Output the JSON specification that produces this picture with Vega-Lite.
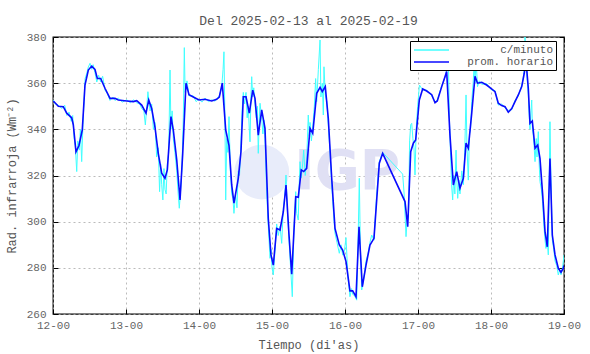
{
  "$schema": "https://vega.github.io/schema/vega-lite/v6.json",
  "width": 511,
  "height": 277,
  "autosize": {"type": "none"},
  "padding": {"left": 53, "top": 37, "right": 26, "bottom": 40},
  "background": "white",
  "title": {"text": "Del 2025-02-13 al 2025-02-19", "font": "Liberation Mono", "fontSize": 13, "fontWeight": "normal", "color": "#555555", "offset": 3},
  "config": {
    "view": {"stroke": "black", "strokeWidth": 1.3},
    "axis": {"labelFont": "Liberation Mono", "labelFontSize": 11, "labelColor": "#666666", "titleFont": "Liberation Mono", "titleFontSize": 12, "titleFontWeight": "normal", "titleColor": "#555555", "domain": false, "gridColor": "#aaaaaa", "gridDash": [2, 3], "gridWidth": 0.8, "tickColor": "black"}
  },
  "datasets": {
    "hourly": [
      {"t":12.004,"v":352.3},{"t":12.073,"v":350},{"t":12.141,"v":349.8},{"t":12.188,"v":347},{"t":12.256,"v":345},{"t":12.278,"v":342},{"t":12.315,"v":330.3},{"t":12.356,"v":333},{"t":12.401,"v":339.7},{"t":12.438,"v":359.2},{"t":12.484,"v":365.7},{"t":12.53,"v":367.4},{"t":12.575,"v":366},{"t":12.607,"v":362},{"t":12.653,"v":362},{"t":12.712,"v":357.8},{"t":12.781,"v":353.4},{"t":12.849,"v":353.4},{"t":12.895,"v":352.7},{"t":13.01,"v":352.3},
      {"t":13.1,"v":352},{"t":13.147,"v":352.4},{"t":13.215,"v":350.5},{"t":13.274,"v":347},{"t":13.311,"v":352.7},{"t":13.352,"v":349},{"t":13.397,"v":341},{"t":13.442,"v":329.6},{"t":13.489,"v":321},{"t":13.534,"v":318.8},{"t":13.566,"v":322.4},{"t":13.616,"v":345.5},{"t":13.648,"v":339.7},{"t":13.695,"v":326.7},{"t":13.74,"v":309.4},{"t":13.777,"v":329.6},{"t":13.822,"v":360},{"t":13.863,"v":355},{"t":13.922,"v":354},{"t":14.0,"v":352.7},
      {"t":14.082,"v":353},{"t":14.174,"v":352.3},{"t":14.242,"v":353},{"t":14.278,"v":354},{"t":14.319,"v":360},{"t":14.366,"v":339.7},{"t":14.411,"v":333},{"t":14.448,"v":315.9},{"t":14.479,"v":308},{"t":14.538,"v":318.8},{"t":14.575,"v":330.3},{"t":14.607,"v":354.1},{"t":14.644,"v":354.1},{"t":14.689,"v":347},{"t":14.736,"v":357},{"t":14.767,"v":353.4},{"t":14.812,"v":337.5},{"t":14.859,"v":348.4},{"t":14.904,"v":340.4},{"t":14.949,"v":301.4},{"t":14.986,"v":285.6},
      {"t":15.018,"v":281.2},{"t":15.064,"v":297.1},{"t":15.11,"v":296.4},{"t":15.155,"v":304.3},{"t":15.192,"v":315.9},{"t":15.233,"v":294.2},{"t":15.27,"v":277.2},{"t":15.325,"v":310.8},{"t":15.36,"v":310.6},{"t":15.401,"v":322.4},{"t":15.434,"v":321.7},{"t":15.475,"v":323.1},{"t":15.521,"v":340.4},{"t":15.558,"v":338.3},{"t":15.612,"v":355.6},{"t":15.658,"v":358.2},{"t":15.689,"v":356.3},{"t":15.73,"v":358.5},{"t":15.771,"v":344.8},{"t":15.818,"v":318.8},{"t":15.863,"v":297.1},{"t":15.922,"v":289.9},{"t":15.968,"v":287.7},
      {"t":16.014,"v":282.7},{"t":16.068,"v":270},{"t":16.105,"v":270},{"t":16.151,"v":267.5},{"t":16.192,"v":297.8},{"t":16.237,"v":271.8},{"t":16.288,"v":281.2},{"t":16.342,"v":289.9},{"t":16.397,"v":292.8},{"t":16.47,"v":325.3},{"t":16.516,"v":329.6},{"t":16.822,"v":308.7},{"t":16.859,"v":297.8},{"t":16.9,"v":330.3},{"t":16.936,"v":334},{"t":16.968,"v":335.4},
      {"t":17.018,"v":352.7},{"t":17.064,"v":357.5},{"t":17.119,"v":356.6},{"t":17.188,"v":355},{"t":17.233,"v":351.5},{"t":17.264,"v":352.3},{"t":17.325,"v":358.5},{"t":17.393,"v":365},{"t":17.438,"v":337.5},{"t":17.484,"v":315.9},{"t":17.53,"v":321.7},{"t":17.575,"v":314.5},{"t":17.621,"v":318.8},{"t":17.658,"v":334},{"t":17.689,"v":331.8},{"t":17.736,"v":347},{"t":17.781,"v":363},{"t":17.815,"v":360},{"t":17.873,"v":360.4},{"t":17.94,"v":359.2},
      {"t":18.008,"v":357.5},{"t":18.055,"v":356.3},{"t":18.1,"v":351.3},{"t":18.147,"v":350.3},{"t":18.192,"v":349.8},{"t":18.237,"v":347.4},{"t":18.284,"v":349},{"t":18.329,"v":352},{"t":18.374,"v":354.9},{"t":18.421,"v":358.5},{"t":18.456,"v":364.3},{"t":18.479,"v":370},{"t":18.511,"v":357.8},{"t":18.534,"v":342.6},{"t":18.566,"v":343.6},{"t":18.603,"v":331.8},{"t":18.64,"v":333.2},{"t":18.671,"v":327.4},{"t":18.708,"v":311.6},{"t":18.74,"v":295.7},{"t":18.771,"v":289.1},{"t":18.808,"v":327.4},{"t":18.84,"v":294.2},{"t":18.877,"v":285.6},{"t":18.922,"v":279.8},{"t":18.959,"v":278.1},{"t":18.99,"v":279.8},{"t":19.0,"v":281}
    ],
    "minute": [
      {"t":12.0,"v":352.8},{"t":12.03,"v":351},{"t":12.073,"v":350.5},{"t":12.12,"v":349},{"t":12.16,"v":350.5},{"t":12.19,"v":346},{"t":12.22,"v":347.5},{"t":12.25,"v":343.5},{"t":12.27,"v":346},{"t":12.29,"v":336},{"t":12.305,"v":333},{"t":12.325,"v":321.7},{"t":12.34,"v":335},{"t":12.36,"v":331},{"t":12.375,"v":340},{"t":12.393,"v":326},{"t":12.41,"v":342},{"t":12.425,"v":352},{"t":12.44,"v":362},{"t":12.46,"v":364},{"t":12.484,"v":367},{"t":12.507,"v":368.6},{"t":12.53,"v":366},{"t":12.55,"v":368},{"t":12.575,"v":364.5},{"t":12.6,"v":360.5},{"t":12.625,"v":363.5},{"t":12.653,"v":360.5},{"t":12.68,"v":363},{"t":12.712,"v":357},{"t":12.745,"v":355.5},{"t":12.781,"v":352.5},{"t":12.82,"v":354},{"t":12.849,"v":352.5},{"t":12.895,"v":353.5},{"t":12.95,"v":351.8},{"t":13.01,"v":352.8},
      {"t":13.06,"v":351.5},{"t":13.1,"v":352.8},{"t":13.147,"v":351.5},{"t":13.19,"v":351},{"t":13.215,"v":349},{"t":13.245,"v":348},{"t":13.265,"v":341.9},{"t":13.285,"v":350},{"t":13.3,"v":356.3},{"t":13.33,"v":348},{"t":13.352,"v":351},{"t":13.375,"v":340},{"t":13.397,"v":343},{"t":13.42,"v":328},{"t":13.442,"v":332},{"t":13.46,"v":313},{"t":13.475,"v":325},{"t":13.489,"v":316},{"t":13.505,"v":309.4},{"t":13.52,"v":323},{"t":13.534,"v":314},{"t":13.55,"v":312},{"t":13.566,"v":325},{"t":13.585,"v":330},{"t":13.603,"v":365.7},{"t":13.616,"v":340},{"t":13.632,"v":348},{"t":13.648,"v":336},{"t":13.67,"v":330},{"t":13.695,"v":322},{"t":13.715,"v":312},{"t":13.73,"v":305.8},{"t":13.745,"v":312},{"t":13.765,"v":322},{"t":13.785,"v":345},{"t":13.799,"v":375.4},{"t":13.81,"v":356},{"t":13.835,"v":361},{"t":13.863,"v":354.5},{"t":13.922,"v":354.5},{"t":13.96,"v":352},{"t":14.0,"v":353.2},
      {"t":14.04,"v":351.8},{"t":14.082,"v":353.5},{"t":14.13,"v":352},{"t":14.174,"v":352.8},{"t":14.22,"v":352.2},{"t":14.278,"v":354.5},{"t":14.31,"v":358},{"t":14.33,"v":366},{"t":14.342,"v":373.6},{"t":14.355,"v":345},{"t":14.366,"v":309.4},{"t":14.38,"v":336},{"t":14.395,"v":330},{"t":14.411,"v":345.5},{"t":14.43,"v":322},{"t":14.448,"v":312},{"t":14.465,"v":310},{"t":14.479,"v":303.6},{"t":14.5,"v":312},{"t":14.52,"v":306},{"t":14.538,"v":322},{"t":14.555,"v":320},{"t":14.575,"v":334},{"t":14.59,"v":348},{"t":14.607,"v":356},{"t":14.625,"v":351},{"t":14.644,"v":356},{"t":14.66,"v":345},{"t":14.675,"v":350},{"t":14.689,"v":340},{"t":14.699,"v":334.6},{"t":14.712,"v":355},{"t":14.722,"v":362.8},{"t":14.736,"v":354},{"t":14.75,"v":358},{"t":14.767,"v":351},{"t":14.785,"v":345},{"t":14.8,"v":350},{"t":14.812,"v":329.6},{"t":14.825,"v":343},{"t":14.836,"v":351.3},{"t":14.859,"v":345},{"t":14.875,"v":338},{"t":14.89,"v":344},{"t":14.904,"v":336},{"t":14.925,"v":315},{"t":14.949,"v":298},{"t":14.973,"v":284.1},{"t":14.986,"v":288},{"t":15.0,"v":280},{"t":15.018,"v":276.9},
      {"t":15.04,"v":287},{"t":15.064,"v":299},{"t":15.085,"v":294},{"t":15.11,"v":298},{"t":15.133,"v":290.6},{"t":15.155,"v":306},{"t":15.175,"v":311},{"t":15.192,"v":320.2},{"t":15.21,"v":305},{"t":15.233,"v":292},{"t":15.255,"v":280},{"t":15.278,"v":267.5},{"t":15.3,"v":296},{"t":15.325,"v":313},{"t":15.338,"v":303.6},{"t":15.36,"v":300.7},{"t":15.37,"v":314},{"t":15.384,"v":326},{"t":15.401,"v":319},{"t":15.42,"v":325},{"t":15.434,"v":331},{"t":15.455,"v":320},{"t":15.475,"v":327},{"t":15.497,"v":346.2},{"t":15.51,"v":337},{"t":15.521,"v":343},{"t":15.54,"v":335},{"t":15.558,"v":341},{"t":15.58,"v":350},{"t":15.598,"v":362},{"t":15.612,"v":352},{"t":15.635,"v":366},{"t":15.658,"v":378.7},{"t":15.67,"v":354},{"t":15.689,"v":360},{"t":15.703,"v":346.2},{"t":15.712,"v":367.1},{"t":15.73,"v":355},{"t":15.75,"v":352},{"t":15.771,"v":342},{"t":15.795,"v":330},{"t":15.818,"v":316},{"t":15.84,"v":305},{"t":15.863,"v":295},{"t":15.89,"v":291},{"t":15.922,"v":286.3},{"t":15.945,"v":290},{"t":15.968,"v":285.5},{"t":15.99,"v":287},
      {"t":16.014,"v":293.1},{"t":16.04,"v":276},{"t":16.068,"v":267.5},{"t":16.09,"v":271},{"t":16.105,"v":268.5},{"t":16.13,"v":268},{"t":16.16,"v":266},{"t":16.175,"v":285},{"t":16.196,"v":318.8},{"t":16.21,"v":290},{"t":16.229,"v":270.4},{"t":16.255,"v":275},{"t":16.288,"v":283},{"t":16.315,"v":286},{"t":16.342,"v":291},{"t":16.366,"v":294.2},{"t":16.397,"v":292},{"t":16.43,"v":310},{"t":16.47,"v":326},{"t":16.516,"v":330},{"t":16.79,"v":320.6},{"t":16.81,"v":312},{"t":16.836,"v":293.5},{"t":16.85,"v":300},{"t":16.87,"v":302},{"t":16.885,"v":335},{"t":16.9,"v":342},{"t":16.914,"v":342.6},{"t":16.93,"v":336},{"t":16.945,"v":332},{"t":16.959,"v":320.2},{"t":16.975,"v":340},{"t":16.995,"v":350},{"t":17.02,"v":359.2},
      {"t":17.064,"v":357},{"t":17.119,"v":357},{"t":17.188,"v":354.5},{"t":17.233,"v":352},{"t":17.264,"v":352.5},{"t":17.325,"v":359},{"t":17.375,"v":363},{"t":17.393,"v":366},{"t":17.415,"v":372},{"t":17.43,"v":345},{"t":17.445,"v":330},{"t":17.46,"v":316},{"t":17.475,"v":309.4},{"t":17.49,"v":320},{"t":17.505,"v":312},{"t":17.521,"v":331},{"t":17.532,"v":318},{"t":17.544,"v":310.1},{"t":17.56,"v":318},{"t":17.575,"v":312},{"t":17.6,"v":322},{"t":17.621,"v":316},{"t":17.64,"v":330},{"t":17.658,"v":354.9},{"t":17.67,"v":333},{"t":17.689,"v":318},{"t":17.705,"v":338},{"t":17.72,"v":340},{"t":17.736,"v":352},{"t":17.755,"v":360},{"t":17.771,"v":369},{"t":17.781,"v":360},{"t":17.795,"v":370.8},{"t":17.815,"v":358.5},{"t":17.84,"v":361},{"t":17.873,"v":359.5},{"t":17.94,"v":359.8},{"t":18.008,"v":357},
      {"t":18.055,"v":356.8},{"t":18.1,"v":350.5},{"t":18.147,"v":351},{"t":18.192,"v":349.2},{"t":18.237,"v":348.2},{"t":18.284,"v":348.5},{"t":18.329,"v":352.5},{"t":18.374,"v":354.5},{"t":18.421,"v":359},{"t":18.44,"v":362},{"t":18.456,"v":366},{"t":18.466,"v":380},{"t":18.479,"v":372},{"t":18.495,"v":362},{"t":18.511,"v":355},{"t":18.525,"v":345},{"t":18.534,"v":340},{"t":18.548,"v":348},{"t":18.558,"v":352.7},{"t":18.568,"v":340},{"t":18.579,"v":337.5},{"t":18.59,"v":333},{"t":18.603,"v":326},{"t":18.62,"v":336},{"t":18.63,"v":328},{"t":18.648,"v":339},{"t":18.66,"v":325},{"t":18.671,"v":317.4},{"t":18.69,"v":314},{"t":18.708,"v":308},{"t":18.725,"v":298},{"t":18.74,"v":292},{"t":18.753,"v":288.4},{"t":18.771,"v":292},{"t":18.785,"v":285.6},{"t":18.795,"v":310},{"t":18.808,"v":343.3},{"t":18.82,"v":320},{"t":18.84,"v":292},{"t":18.86,"v":288},{"t":18.877,"v":283},{"t":18.9,"v":281},{"t":18.922,"v":276.9},{"t":18.94,"v":279},{"t":18.959,"v":277},{"t":18.98,"v":280},{"t":19.0,"v":285.6}
    ],
    "logo": [{"t": 16.03, "v": 321.5, "label": "IGP"}, {"t": 14.86, "v": 321.5, "label": "o"}]
  },
  "layer": [
    {
      "data": {"name": "logo"},
      "transform": [{"filter": "datum.label == 'o'"}],
      "mark": {"type": "point", "filled": true, "color": "#e8ecfa", "size": 3000, "opacity": 1},
      "encoding": {
        "x": {"field": "t", "type": "quantitative", "axis": null},
        "y": {"field": "v", "type": "quantitative", "axis": null}
      }
    },
    {
      "data": {"name": "logo"},
      "transform": [{"filter": "datum.label == 'IGP'"}],
      "mark": {"type": "text", "font": "DejaVu Sans", "fontWeight": "bold", "fontSize": 55, "color": "#e0e0f4", "baseline": "middle", "align": "center"},
      "encoding": {
        "x": {"field": "t", "type": "quantitative", "axis": null},
        "y": {"field": "v", "type": "quantitative", "axis": null},
        "text": {"field": "label"}
      }
    },
    {
      "data": {"name": "minute"},
      "mark": {"type": "line", "strokeWidth": 1, "clip": true},
      "encoding": {
        "x": {"field": "t", "type": "quantitative", "scale": {"domain": [12, 19], "nice": false, "zero": false},
          "axis": {"orient": "bottom", "values": [12, 13, 14, 15, 16, 17, 18, 19], "labelExpr": "format(datum.value, 'd') + '-00'", "title": "Tiempo (di'as)", "grid": true, "tickSize": -5, "labelPadding": 10, "titlePadding": 9, "labelFlush": false}},
        "y": {"field": "v", "type": "quantitative", "scale": {"domain": [260, 380], "nice": false, "zero": false},
          "axis": {"orient": "left", "values": [260, 280, 300, 320, 340, 360, 380], "title": "Rad. infrarroja (Wm⁻²)", "grid": true, "tickSize": -5, "labelPadding": 12, "titlePadding": 8}},
        "color": {"datum": "c/minuto", "type": "nominal", "scale": {"domain": ["c/minuto", "prom. horario"], "range": ["#40ffff", "#0a0aff"]},
          "legend": {"orient": "none", "legendX": 357, "legendY": 4, "title": null, "symbolType": "M-1,0H6", "symbolSize": 100, "symbolStrokeWidth": 1.5, "labelFont": "Liberation Mono", "labelFontSize": 11, "labelColor": "#555555", "labelAlign": "right", "labelOffset": 128, "strokeColor": "black", "fillColor": "white", "padding": 3, "rowPadding": 1}}
      }
    },
    {
      "data": {"name": "hourly"},
      "mark": {"type": "line", "strokeWidth": 1.6, "clip": true},
      "encoding": {
        "x": {"field": "t", "type": "quantitative", "axis": {"orient": "top", "values": [12, 13, 14, 15, 16, 17, 18, 19], "labels": false, "title": null, "grid": false, "tickSize": -5}},
        "y": {"field": "v", "type": "quantitative", "axis": {"orient": "right", "values": [260, 280, 300, 320, 340, 360, 380], "labels": false, "title": null, "grid": false, "tickSize": -5}},
        "color": {"datum": "prom. horario", "type": "nominal"}
      }
    }
  ],
  "resolve": {"axis": {"x": "independent", "y": "independent"}}
}
